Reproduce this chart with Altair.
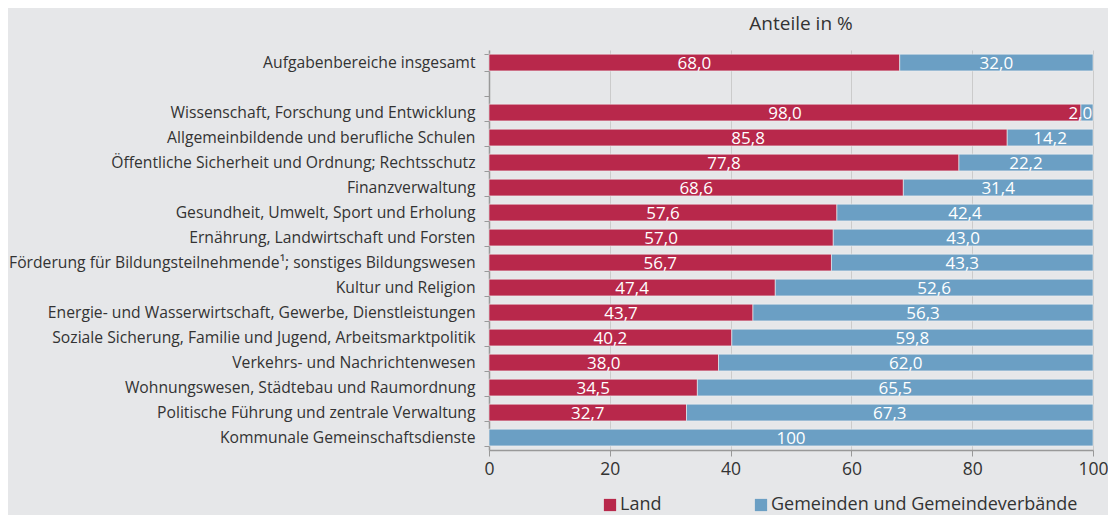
import altair as alt
import pandas as pd

categories = [
    "Aufgabenbereiche insgesamt",
    " ",
    "Wissenschaft, Forschung und Entwicklung",
    "Allgemeinbildende und berufliche Schulen",
    "Öffentliche Sicherheit und Ordnung; Rechtsschutz",
    "Finanzverwaltung",
    "Gesundheit, Umwelt, Sport und Erholung",
    "Ernährung, Landwirtschaft und Forsten",
    "Förderung für Bildungsteilnehmende¹; sonstiges Bildungswesen",
    "Kultur und Religion",
    "Energie- und Wasserwirtschaft, Gewerbe, Dienstleistungen",
    "Soziale Sicherung, Familie und Jugend, Arbeitsmarktpolitik",
    "Verkehrs- und Nachrichtenwesen",
    "Wohnungswesen, Städtebau und Raumordnung",
    "Politische Führung und zentrale Verwaltung",
    "Kommunale Gemeinschaftsdienste",
]
bar_categories = [c for c in categories if c != " "]
land = [68.0, 98.0, 85.8, 77.8, 68.6, 57.6, 57.0, 56.7, 47.4, 43.7, 40.2, 38.0, 34.5, 32.7, 0.0]
gemeinden = [32.0, 2.0, 14.2, 22.2, 31.4, 42.4, 43.0, 43.3, 52.6, 56.3, 59.8, 62.0, 65.5, 67.3, 100.0]
series = ["Land", "Gemeinden und Gemeindeverbände"]
colors = ["#b8284b", "#6b9fc4"]


def fmt(v):
    if v == 100:
        return "100"
    return f"{v:.1f}".replace(".", ",")


rows = []
for c, a, b in zip(bar_categories, land, gemeinden):
    rows.append({"cat": c, "series": series[0], "order": 0, "value": a, "label": fmt(a)})
    rows.append({"cat": c, "series": series[1], "order": 1, "value": b, "label": fmt(b)})
df = pd.DataFrame(rows)

FONT = "Open Sans"
TEXT = "#333333"

base = alt.Chart(df).transform_stack(
    stack="value", groupby=["cat"], sort=[alt.SortField("order")], as_=["x0", "x1"]
).transform_calculate(mid="min((datum.x0 + datum.x1) / 2, 97.9)")

yscale = alt.Scale(domain=categories, paddingInner=0.33, paddingOuter=0.165)

y_enc = alt.Y(
    "cat:N",
    scale=yscale,
    axis=alt.Axis(
        title=None,
        tickBand="extent",
        tickSize=5,
        tickColor="#999999",
        domainColor="#999999",
        domainWidth=1.5,
        labelFontSize=15.7,
        labelFont=FONT,
        labelColor=TEXT,
        labelPadding=9,
        labelLimit=700,
        grid=False,
    ),
)

bars = base.mark_bar(stroke="#f2f2f2", strokeWidth=0.6).encode(
    x=alt.X(
        "x0:Q",
        scale=alt.Scale(domain=[0, 100], nice=False),
        axis=alt.Axis(
            title=None,
            values=[0, 20, 40, 60, 80, 100],
            grid=True,
            gridColor="#cbcbcb",
            tickSize=6,
            tickColor="#999999",
            domainColor="#999999",
            domainWidth=1.5,
            labelFontSize=17.5,
            labelFont=FONT,
            labelColor=TEXT,
            labelPadding=4,
            labelFlush=False,
        ),
    ),
    x2="x1:Q",
    y=y_enc,
    color=alt.Color(
        "series:N",
        scale=alt.Scale(domain=series, range=colors),
        legend=alt.Legend(
            title=None,
            orient="none",
            legendX=112,
            legendY=446,
            direction="horizontal",
            symbolType="square",
            symbolSize=150,
            symbolStrokeWidth=0,
            labelFontSize=18,
            labelFont=FONT,
            labelColor=TEXT,
            labelLimit=500,
            columnPadding=90,
            labelOffset=1,
        ),
    ),
)

texts = base.transform_filter("datum.value > 0").mark_text(
    color="white", fontSize=17, font=FONT, baseline="middle", align="center", dy=1
).encode(
    x=alt.X("mid:Q"),
    y=alt.Y("cat:N", scale=yscale),
    text="label:N",
)

chart = (
    alt.layer(bars, texts)
    .properties(
        width=604,
        height=400,
        autosize=alt.AutoSizeParams(type="none"),
        padding={"left": 481, "top": 42, "right": 15, "bottom": 65},
        title=alt.TitleParams(
            "Anteile in %",
            fontSize=19,
            fontWeight="normal",
            font=FONT,
            color=TEXT,
            anchor="middle",
            offset=8,
            dx=10,
        ),
    )
    .configure(background="#e6e7e9")
    .configure_view(stroke=None)
)

chart.save("out.html", embed_options={"renderer": "svg", "actions": False})
